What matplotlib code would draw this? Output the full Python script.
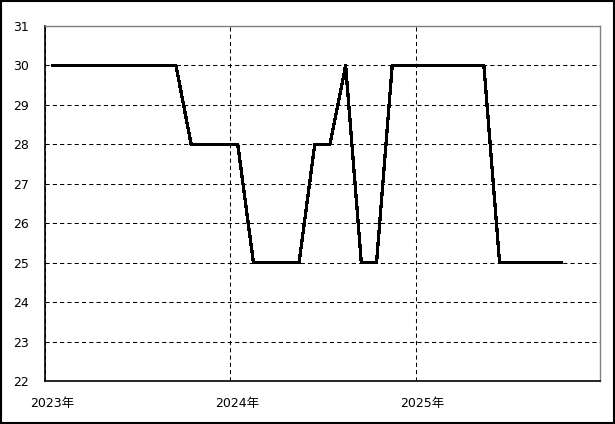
import numpy as np
import pandas as pd
import matplotlib
matplotlib.use("Agg")
import matplotlib.pyplot as plt
import matplotlib.dates as mdates
import matplotlib.transforms as mtransforms
from matplotlib.patches import Rectangle

plt.rcParams['font.family'] = ['DejaVu Sans', 'Noto Sans CJK JP']

# monthly values, Jan 2023 .. Oct 2025 (plotted at mid-month)
months = pd.date_range("2023-01-01", "2025-10-01", freq="MS") + pd.Timedelta(days=15)
values = [30, 30, 30, 30, 30, 30, 30, 30, 30, 28, 28, 28,
          28, 25, 25, 25, 25, 28, 28, 30, 25, 25, 30, 30,
          30, 30, 30, 30, 30, 25, 25, 25, 25, 25]
year_ticks = pd.to_datetime(["2023-01-01", "2024-01-01", "2025-01-01"])
year_labels = ["2023年", "2024年", "2025年"]
y_ticks = list(range(22, 32))

fig = plt.figure(figsize=(6.15, 4.24), dpi=100)
ax = fig.add_axes([0.0737, 0.1007, 0.9025, 0.838])

ax.plot(months, values, color="black", linewidth=1.6, antialiased=False)

ax.set_xlim(pd.Timestamp("2023-01-01"), pd.Timestamp("2026-01-01"))
ax.set_ylim(22, 31)
ax.set_yticks(y_ticks)
ax.set_xticks(year_ticks)
ax.set_xticklabels(year_labels)

ax.grid(True, color="black", linestyle=(0, (4, 3)), linewidth=0.75)
ax.tick_params(axis="both", length=0, labelsize=9)
ax.tick_params(axis="y", pad=12)
ax.tick_params(axis="x", pad=11)

# x labels sit a little right of their ticks
shift = mtransforms.ScaledTranslation(7 / 100, 0, fig.dpi_scale_trans)
for lbl in ax.get_xticklabels():
    lbl.set_transform(lbl.get_transform() + shift)

for side in ("left", "bottom"):
    ax.spines[side].set_color("black")
    ax.spines[side].set_linewidth(1.2)
for side in ("top", "right"):
    ax.spines[side].set_color("#808080")
    ax.spines[side].set_linewidth(1.0)

fig.patches.append(Rectangle((0.001, 0.002), 0.997, 0.995, transform=fig.transFigure,
                             fill=False, edgecolor="black", linewidth=1.5))

fig.savefig("out.png", dpi=100)
